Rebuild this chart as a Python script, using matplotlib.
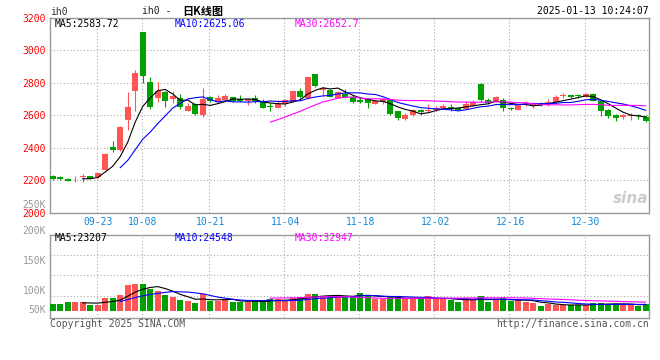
import matplotlib
matplotlib.use('Agg')
import matplotlib.pyplot as plt
import numpy as np
import pandas as pd

# ---------------- data ----------------
dates = ['09-11', '09-12', '09-13', '09-18', '09-19', '09-20', '09-23', '09-24', '09-25', '09-26', '09-27', '09-30',
         '10-08', '10-09', '10-10', '10-11', '10-14', '10-15', '10-16', '10-17', '10-18', '10-21', '10-22', '10-23',
         '10-24', '10-25', '10-28', '10-29', '10-30', '10-31',
         '11-01', '11-04', '11-05', '11-06', '11-07', '11-08', '11-11', '11-12', '11-13', '11-14', '11-15', '11-18',
         '11-19', '11-20', '11-21', '11-22', '11-25', '11-26', '11-27', '11-28', '11-29',
         '12-02', '12-03', '12-04', '12-05', '12-06', '12-09', '12-10', '12-11', '12-12', '12-13', '12-16', '12-17',
         '12-18', '12-19', '12-20', '12-23', '12-24', '12-25', '12-26', '12-27', '12-30', '12-31',
         '01-02', '01-03', '01-06', '01-07', '01-08', '01-09', '01-10']

open_ = [2227, 2221, 2209, 2206, 2223, 2227, 2221, 2267, 2406, 2390, 2570, 2748, 3115, 2806, 2705, 2741, 2703, 2709,
         2628, 2671, 2602, 2711, 2685, 2697, 2711, 2701, 2689, 2709, 2684, 2660, 2648, 2672, 2682, 2750, 2704, 2852,
         2756, 2756, 2708, 2732, 2716, 2696, 2700, 2672, 2680, 2692, 2624, 2576, 2600, 2636, 2624, 2632, 2644, 2650,
         2648, 2640, 2660, 2796, 2694, 2684, 2694, 2644, 2636, 2670, 2656, 2670, 2664, 2680, 2718, 2724, 2722, 2716,
         2730, 2686, 2632, 2602, 2588, 2598, 2602, 2590]
high = [2231, 2225, 2213, 2227, 2238, 2230, 2248, 2370, 2440, 2535, 2741, 2879, 3115, 2838, 2808, 2750, 2748, 2733,
        2677, 2677, 2770, 2717, 2727, 2729, 2713, 2723, 2703, 2727, 2700, 2676, 2696, 2700, 2750, 2770, 2834, 2856,
        2772, 2764, 2748, 2760, 2724, 2716, 2704, 2696, 2704, 2700, 2630, 2612, 2640, 2640, 2672, 2660, 2668, 2670,
        2652, 2686, 2694, 2798, 2706, 2720, 2704, 2652, 2668, 2686, 2680, 2680, 2700, 2726, 2736, 2724, 2730, 2740,
        2740, 2690, 2640, 2610, 2610, 2614, 2608, 2600]
low = [2203, 2204, 2195, 2193, 2193, 2209, 2217, 2262, 2378, 2384, 2511, 2626, 2802, 2640, 2685, 2649, 2677, 2640,
       2624, 2604, 2588, 2681, 2681, 2689, 2681, 2681, 2665, 2677, 2644, 2630, 2644, 2656, 2680, 2704, 2700, 2776,
       2720, 2712, 2704, 2708, 2676, 2674, 2644, 2668, 2672, 2604, 2570, 2572, 2596, 2604, 2620, 2624, 2640, 2630,
       2632, 2638, 2656, 2684, 2670, 2680, 2630, 2632, 2632, 2660, 2644, 2656, 2660, 2676, 2706, 2704, 2704, 2712,
       2686, 2596, 2584, 2564, 2580, 2570, 2576, 2560]
close = [2207, 2207, 2197, 2211, 2229, 2211, 2244, 2364, 2390, 2529, 2653, 2863, 2844, 2651, 2752, 2687, 2721, 2653,
         2657, 2608, 2701, 2689, 2707, 2721, 2687, 2691, 2701, 2687, 2648, 2654, 2670, 2692, 2750, 2716, 2834, 2780,
         2768, 2716, 2742, 2712, 2680, 2684, 2678, 2690, 2700, 2606, 2584, 2604, 2636, 2620, 2636, 2648, 2660, 2646,
         2636, 2670, 2680, 2696, 2674, 2716, 2644, 2640, 2664, 2674, 2672, 2666, 2682, 2712, 2722, 2716, 2718, 2732,
         2690, 2624, 2596, 2584, 2604, 2602, 2598, 2564]
volume = [25600, 25600, 33280, 33280, 33280, 23040, 23040, 48640, 48640, 60160, 98560, 102400, 102400, 83200, 76800,
          60160, 52480, 40960, 38400, 29440, 64000, 38400, 38400, 43520, 33280, 33280, 33280, 40960, 33280, 44800,
          44800, 38400, 47360, 52480, 64000, 64000, 52480, 56320, 56320, 55040,
          56320, 67840, 60160, 44800, 44800, 52480, 52480, 44800, 44800, 44800, 56320, 44800, 44800, 40960, 33280,
          48640, 40960, 56320, 33280, 40960, 48640, 37120, 44800, 33280, 29440, 17920, 25600, 21760, 21760, 21760,
          21760, 21760, 29440, 29440, 25600, 25600, 21760, 25600, 17920, 25600]

tick_dates = ['09-23', '10-08', '10-21', '11-04', '11-18', '12-02', '12-16', '12-30']
price_ticks = [2000, 2200, 2400, 2600, 2800, 3000, 3200]
vol_labels = ['200K', '150K', '100K', '50K']
main_ma_text = ['MA5:2583.72', 'MA10:2625.06', 'MA30:2652.7']
vol_ma_text = ['MA5:23207', 'MA10:24548', 'MA30:32947']

# ---------------- style ----------------
W, H = 660, 360
RED = '#FF5555'
GREEN = '#00A000'
GRID = '#aaaaaa'
SPINE = '#999999'
MONO = 'DejaVu Sans Mono'
ma_colors = ['#000000', '#0000FF', '#FF00FF']


def fx(px):
    return px / W


def fy(py):
    return 1 - py / H


fig = plt.figure(figsize=(W / 100, H / 100), dpi=100)
fig.patch.set_facecolor('white')

L, R = 50, 649.3
ax1 = fig.add_axes([fx(L), fy(213), (R - L) / W, (213 - 17.8) / H])
ax2 = fig.add_axes([fx(L), fy(318), (R - L) / W, (318 - 234.7) / H])

n = len(close)
x = np.arange(n)
o = np.array(open_, float)
c = np.array(close, float)
hi = np.array(high, float)
lo = np.array(low, float)
cols = [RED if cc >= oo else GREEN for oo, cc in zip(o, c)]
tick_pos = [dates.index(d) for d in tick_dates]

for ax in (ax1, ax2):
    ax.set_xlim(-0.36, 79.48)
    ax.set_facecolor('white')
    for s in ax.spines.values():
        s.set_color(SPINE)
        s.set_linewidth(1.0)
    for p in tick_pos:
        ax.axvline(p - 0.15, color=GRID, lw=0.8, ls=(0, (1, 2)), zorder=0)

# ---- price panel ----
ax1.set_ylim(2000, 3200)
for v in price_ticks[1:-1]:
    ax1.axhline(v, color=GRID, lw=0.8, ls=(0, (1, 2)), zorder=0)
ax1.spines['bottom'].set_linestyle((0, (1, 1)))

ax1.vlines(x, lo, hi, colors=cols, lw=0.8, zorder=2)
body = np.maximum(np.abs(c - o), 6)
ax1.bar(x, body, bottom=np.minimum(o, c), width=0.8, color=cols, linewidth=0, zorder=3)

cs = pd.Series(c)
for win, col in zip((5, 10, 30), ma_colors):
    ax1.plot(x, cs.rolling(win).mean(), color=col, lw=0.8, zorder=4)

ax1.set_yticks(price_ticks)
ax1.set_yticklabels([str(v) for v in price_ticks], color='#FF0000', fontsize=7, family=MONO)
ax1.set_xticks(tick_pos)
ax1.set_xticklabels(tick_dates, color='#1088D8', fontsize=7, family=MONO)
ax1.tick_params(axis='both', length=0)
ax1.tick_params(axis='y', pad=3)
ax1.tick_params(axis='x', pad=3)

# ---- volume panel ----
ax2.set_ylim(-28000, 292000)
for fr in (0.756, 0.516, 0.264):
    ax2.plot([0, 1], [fr, fr], transform=ax2.transAxes, color=GRID, lw=0.8, ls=(0, (1, 2)), zorder=0)
ax2.bar(x, volume, width=0.8, color=cols, linewidth=0, zorder=3)
vs = pd.Series(np.array(volume, float))
for win, col in zip((5, 10, 30), ma_colors):
    ax2.plot(x, vs.rolling(win).mean(), color=col, lw=0.8, zorder=4)
ax2.set_xticks([])
ax2.set_yticks([])

# ---- texts ----
for lab, py in zip(vol_labels, (231, 261, 290.7, 310)):
    fig.text(fx(46), fy(py), lab, ha='right', va='center', color='#999999', fontsize=7, family=MONO)
fig.text(fx(46), fy(205), '250K', ha='right', va='center', color='#999999', fontsize=7, family=MONO)

fig.text(fx(50.5), fy(12), 'ih0', ha='left', va='center', color='#333333', fontsize=7, family=MONO)
fig.text(fx(141.5), fy(11.5), 'ih0 -', ha='left', va='center', color='#222222', fontsize=7, family=MONO)
fig.text(fx(182), fy(11), '日K线图', ha='left', va='center', color='#000000', fontsize=8,
         family=['Noto Sans CJK SC', 'DejaVu Sans'], fontweight='bold')
fig.text(fx(649), fy(11.5), '2025-01-13 10:24:07', ha='right', va='center', color='#000000', fontsize=7,
         family=MONO)

for t, px, col in zip(main_ma_text, (55, 175, 295), ma_colors):
    fig.text(fx(px), fy(24), t, ha='left', va='center', color=col, fontsize=7, family=MONO)
for t, px, col in zip(vol_ma_text, (55, 175, 295), ma_colors):
    fig.text(fx(px), fy(238), t, ha='left', va='center', color=col, fontsize=7, family=MONO)

fig.text(fx(50), fy(324), 'Copyright 2025 SINA.COM', ha='left', va='center', color='#555555', fontsize=7,
         family=MONO)
fig.text(fx(649), fy(324), 'http://finance.sina.com.cn', ha='right', va='center', color='#555555',
         fontsize=7, family=MONO)
fig.text(fx(648), fy(198), 'sina', ha='right', va='center', color='#cccccc', fontsize=11,
         fontweight='bold', fontstyle='italic', family='DejaVu Sans')

fig.savefig('out.png', dpi=100, facecolor='white')
